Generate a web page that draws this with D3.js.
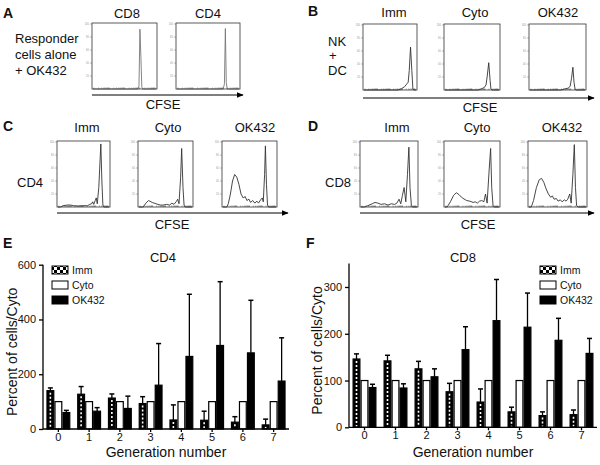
<!DOCTYPE html>
<html><head><meta charset="utf-8">
<script src="https://cdn.jsdelivr.net/npm/d3@7"></script>
<style>body{margin:0;background:#fff} svg{display:block;font-family:"Liberation Sans",Arial,sans-serif}</style>
</head><body><svg id="c" width="600" height="465"></svg>
<script>
// ---------------- data ----------------
const generations = ["0","1","2","3","4","5","6","7"];
const seriesNames = ["Imm","Cyto","OK432"];
const cd4Imm    = [140,127,113, 93, 33, 32, 25, 15];
const cd4ImmErr = [150,155,128,118, 88, 65, 45, 36];
const cd4Cyto   = [100,100,100,100,100,100,100,100];
const cd4Ok     = [ 60, 65, 75,160,265,305,278,175];
const cd4OkErr  = [ 68, 78,120,312,492,538,470,333];
const cd4Ticks  = [0,200,400,600];
const cd8Imm    = [146,142,125, 76, 54, 33, 25, 27];
const cd8ImmErr = [157,154,141, 94, 82, 43, 33, 37];
const cd8Cyto   = [100,100,100,100,100,100,100,100];
const cd8Ok     = [ 85, 84,108,166,228,214,186,158];
const cd8OkErr  = [ 92, 93,125,215,316,287,233,190];
const cd8Ticks  = [0,100,200,300];

// histogram traces: [relative CFSE position, % of max]
const histA_CD8 = [[0,0],[0.71,0],[0.73,5],[0.745,92],[0.76,50],[0.775,3],[0.79,0],[1,0]];
const histA_CD4 = [[0,0],[0.745,0],[0.765,8],[0.78,93],[0.795,10],[0.81,0],[1,0]];
const histB_Imm = [[0,0],[0.66,0],[0.72,2],[0.78,5],[0.82,9],[0.85,12],[0.87,30],[0.895,66],[0.92,30],[0.94,2],[0.96,0],[1,0]];
const histB_Cyto = [[0,0],[0.62,0],[0.68,2],[0.73,4],[0.76,8],[0.78,20],[0.81,42],[0.835,15],[0.85,2],[0.87,0],[1,0]];
const histB_OK = [[0,0],[0.56,0],[0.6,1],[0.65,2],[0.7,3],[0.73,6],[0.755,18],[0.78,35],[0.80,12],[0.82,1],[0.84,0],[1,0]];
const histC_Imm = [[0,0],[0.05,0],[0.1,2],[0.18,3],[0.25,3],[0.3,2],[0.4,1.5],[0.5,2],[0.58,2],[0.62,4],[0.66,5],[0.68,8],[0.70,4],[0.73,10],[0.75,14],[0.77,5],[0.8,30],[0.84,97],[0.86,40],[0.88,3],[0.9,0],[1,0]];
const histC_Cyto = [[0,0],[0.08,0],[0.13,6],[0.18,10],[0.25,7],[0.32,5],[0.4,3],[0.46,3],[0.52,4],[0.58,3],[0.62,6],[0.66,4],[0.7,8],[0.73,12],[0.755,5],[0.785,45],[0.805,90],[0.83,30],[0.85,3],[0.87,0],[1,0]];
const histC_OK = [[0,0],[0.07,0],[0.1,5],[0.14,20],[0.18,40],[0.22,50],[0.26,46],[0.3,35],[0.34,20],[0.38,14],[0.42,16],[0.45,10],[0.49,12],[0.52,7],[0.56,10],[0.6,6],[0.64,9],[0.67,6],[0.71,11],[0.74,14],[0.76,8],[0.785,50],[0.80,94],[0.82,35],[0.84,3],[0.86,0],[1,0]];
const histD_Imm = [[0,0],[0.06,0],[0.12,2],[0.2,5],[0.25,7],[0.3,6],[0.36,4],[0.42,5],[0.48,3],[0.54,5],[0.6,4],[0.64,6],[0.68,12],[0.71,5],[0.74,18],[0.77,30],[0.8,8],[0.83,50],[0.855,92],[0.875,30],[0.9,2],[0.92,0],[1,0]];
const histD_Cyto = [[0,0],[0.04,0],[0.1,8],[0.16,18],[0.21,22],[0.26,19],[0.32,14],[0.4,10],[0.46,9],[0.52,7],[0.56,8],[0.6,6],[0.64,9],[0.68,10],[0.72,8],[0.75,20],[0.78,6],[0.82,60],[0.845,90],[0.865,30],[0.89,2],[0.91,0],[1,0]];
const histD_OK = [[0,0],[0.04,0],[0.08,10],[0.13,30],[0.18,42],[0.22,44],[0.26,38],[0.3,28],[0.34,20],[0.38,15],[0.41,17],[0.44,12],[0.48,13],[0.51,9],[0.55,11],[0.58,8],[0.62,11],[0.65,9],[0.68,12],[0.715,20],[0.74,6],[0.77,50],[0.795,96],[0.815,30],[0.835,2],[0.86,0],[1,0]];
const histYTicks = [20,40,60,80,100];

// ---------------- drawing ----------------
const svg = d3.select("#c");
const defs = svg.append("defs");
defs.append("marker").attr("id","arr").attr("viewBox","0 0 10 10").attr("refX",9).attr("refY",5)
  .attr("markerWidth",7).attr("markerHeight",7).attr("markerUnits","userSpaceOnUse").attr("orient","auto")
  .append("path").attr("d","M0,1 L10,5 L0,9 Z").attr("fill","#000");
const pat = defs.append("pattern").attr("id","checks").attr("patternUnits","userSpaceOnUse").attr("width",6).attr("height",6);
pat.append("rect").attr("width",6).attr("height",6).attr("fill","#fff");
pat.append("rect").attr("width",3).attr("height",3).attr("fill","#000");
pat.append("rect").attr("x",3).attr("y",3).attr("width",3).attr("height",3).attr("fill","#000");

function txt(x,y,s,opt={}) {
  return svg.append("text").attr("x",x).attr("y",y).text(s)
    .attr("font-size",opt.size||13).attr("font-weight",opt.bold?"bold":null)
    .attr("text-anchor",opt.anchor||"start").attr("fill","#111");
}

function histogram(x0,x1,y0,y1,data,stroke) {
  const g = svg.append("g");
  const xs = d3.scaleLinear().domain([0,1]).range([x0+1,x1-1]);
  const ys = d3.scaleLinear().domain([0,100]).range([y1,y0+1]);
  const lg = d3.scaleLog().domain([1,10000]).range([x0+2,x1-2]);
  g.selectAll(".bt").data(lg.ticks()).join("line")
    .attr("x1",d=>lg(d)).attr("x2",d=>lg(d)).attr("y1",y1-1.5).attr("y2",y1)
    .attr("stroke","#777").attr("stroke-width",0.6);
  g.selectAll(".lt").data(histYTicks).join("line")
    .attr("x1",x0-2).attr("x2",x0).attr("y1",d=>ys(d)).attr("y2",d=>ys(d))
    .attr("stroke","#999").attr("stroke-width",0.6);
  g.selectAll(".ll").data(histYTicks).join("text")
    .attr("x",x0-3).attr("y",d=>ys(d)+1).attr("text-anchor","end").attr("font-size",2.6).attr("fill","#999")
    .text(d=>d);
  g.append("path").datum(data)
    .attr("d",d3.line().x(d=>xs(d[0])).y(d=>ys(d[1])))
    .attr("fill","none").attr("stroke",stroke||"#333").attr("stroke-width",0.9).attr("stroke-linejoin","round");
  g.append("rect").attr("x",x0).attr("y",y0).attr("width",x1-x0).attr("height",y1-y0)
    .attr("fill","none").attr("stroke","#333").attr("stroke-width",0.8);
}
function arrow(x0,x1,y) {
  svg.append("line").attr("x1",x0).attr("x2",x1).attr("y1",y).attr("y2",y)
    .attr("stroke","#000").attr("stroke-width",1).attr("marker-end","url(#arr)");
}

// Panel A
txt(3,18,"A",{bold:true,size:14});
txt(127,18,"CD8",{anchor:"middle"}); txt(208,18,"CD4",{anchor:"middle"});
txt(15,43,"Responder"); txt(15,59,"cells alone"); txt(15,75,"+ OK432");
histogram(92,157,23,89,histA_CD8,"#777");
histogram(176,240,23,89,histA_CD4,"#777");
arrow(92,243,95); txt(163,109,"CFSE",{anchor:"middle"});

// Panel B
txt(308,16,"B",{bold:true,size:14});
txt(394,17,"Imm",{anchor:"middle"}); txt(475,17,"Cyto",{anchor:"middle"}); txt(558,17,"OK432",{anchor:"middle"});
txt(328,46,"NK"); txt(329,60,"+"); txt(328,75,"DC");
histogram(363,417,24,90,histB_Imm);
histogram(444,500,24,90,histB_Cyto);
histogram(529,586,24,90,histB_OK);
arrow(363,594,98); txt(480,112,"CFSE",{anchor:"middle"});

// Panel C
txt(3,131,"C",{bold:true,size:14});
txt(87,132,"Imm",{anchor:"middle"}); txt(168,132,"Cyto",{anchor:"middle"}); txt(255,132,"OK432",{anchor:"middle"});
txt(17,187,"CD4");
histogram(57,110,141,207,histC_Imm);
histogram(138,193,141,207,histC_Cyto);
histogram(222,277,141,207,histC_OK);
arrow(57,288,213); txt(172,229,"CFSE",{anchor:"middle"});

// Panel D
txt(308,131,"D",{bold:true,size:14});
txt(397,132,"Imm",{anchor:"middle"}); txt(477,132,"Cyto",{anchor:"middle"}); txt(562,132,"OK432",{anchor:"middle"});
txt(325,187,"CD8");
histogram(360,418,141,207,histD_Imm);
histogram(444,500,141,207,histD_Cyto);
histogram(528,587,141,207,histD_OK);
arrow(360,594,213); txt(478,229,"CFSE",{anchor:"middle"});

// Bar charts
function barChart(o) {
  const g = svg.append("g");
  const y = d3.scaleLinear().domain([0,o.yMax]).range([o.yBottom,o.yTop]);
  const x = d3.scaleBand().domain(generations).range([o.axisX,o.xEnd]);
  const inner = d3.scaleBand().domain(seriesNames).range([x.bandwidth()/2-12, x.bandwidth()/2+12]);
  const series = [
    {name:"Imm", vals:o.imm, err:o.immErr},
    {name:"Cyto", vals:o.cyto, err:null},
    {name:"OK432", vals:o.ok, err:o.okErr}
  ];
  series.forEach(s=>{
    const rows = generations.map((gname,i)=>({g:gname,v:s.vals[i],e:s.err?s.err[i]:null}));
    const bx = d=>x(d.g)+inner(s.name);
    if (s.err) {
      g.selectAll(null).data(rows).join("line")
        .attr("x1",d=>bx(d)+inner.bandwidth()/2).attr("x2",d=>bx(d)+inner.bandwidth()/2)
        .attr("y1",d=>y(d.v)).attr("y2",d=>y(d.e)).attr("stroke","#000").attr("stroke-width",1.3);
      g.selectAll(null).data(rows).join("line")
        .attr("x1",d=>bx(d)+inner.bandwidth()/2-2.5).attr("x2",d=>bx(d)+inner.bandwidth()/2+2.5)
        .attr("y1",d=>y(d.e)).attr("y2",d=>y(d.e)).attr("stroke","#000").attr("stroke-width",1.5);
    }
    g.selectAll(null).data(rows).join("rect")
      .attr("x",d=>bx(d)+0.6).attr("width",inner.bandwidth()-1.2)
      .attr("y",d=>y(d.v)).attr("height",d=>y(0)-y(d.v))
      .attr("fill",s.name==="Cyto"?"#fff":"#000").attr("stroke","#000").attr("stroke-width",1.2);
    if (s.name==="Imm") {
      g.selectAll(null).data(rows).join("line")
        .attr("x1",d=>bx(d)+inner.bandwidth()/2).attr("x2",d=>bx(d)+inner.bandwidth()/2)
        .attr("y1",d=>y(d.v)+2).attr("y2",y(0)-1)
        .attr("stroke","#fff").attr("stroke-width",1.6).attr("stroke-dasharray","2,2");
    }
  });
  const ya = g.append("g").attr("transform",`translate(${o.axisX},0)`)
    .call(d3.axisLeft(y).tickValues(o.ticks).tickSize(4).tickSizeOuter(0));
  ya.select(".domain").attr("d",`M0,${o.yBottom}V${y(o.yMax)}`);
  const xa = g.append("g").attr("transform",`translate(0,${o.yBottom})`)
    .call(d3.axisBottom(x).tickSize(3).tickPadding(1).tickSizeOuter(0));
  xa.select(".domain").attr("d",`M${o.axisX},0H${o.xEnd}`);
  [ya,xa].forEach(a=>{
    a.selectAll("path,line").attr("stroke","#000").attr("stroke-width",1.3);
    a.selectAll("text").attr("font-size",11).attr("font-family","Liberation Sans, Arial, sans-serif").attr("fill","#111");
  });
  txt(o.titleX,262,o.title,{anchor:"middle"});
  svg.append("text").attr("transform",`translate(${o.yLabelX},${(o.yBottom+o.yTop)/2+5}) rotate(-90)`)
    .attr("text-anchor","middle").attr("font-size",14).attr("fill","#111").text("Percent of cells/Cyto");
  txt((o.axisX+o.xEnd)/2,457,"Generation number",{anchor:"middle",size:14});
  const lg = svg.append("g");
  seriesNames.forEach((n,i)=>{
    const yy = o.legY + i*15;
    lg.append("rect").attr("x",o.legX).attr("y",yy-4).attr("width",16).attr("height",8)
      .attr("fill", n==="Imm"?"url(#checks)":(n==="Cyto"?"#fff":"#000")).attr("stroke","#000").attr("stroke-width",1);
    lg.append("text").attr("x",o.legX+20).attr("y",yy+4).attr("font-size",10.5).attr("fill","#111").text(n);
  });
}

txt(3,248,"E",{bold:true,size:14});
barChart({imm:cd4Imm,immErr:cd4ImmErr,cyto:cd4Cyto,ok:cd4Ok,okErr:cd4OkErr,ticks:cd4Ticks,
  yMax:600,yBottom:429,yTop:264.7,axisX:43,xEnd:289,title:"CD4",titleX:163,yLabelX:17,legX:52,legY:270});

txt(306,248,"F",{bold:true,size:14});
barChart({imm:cd8Imm,immErr:cd8ImmErr,cyto:cd8Cyto,ok:cd8Ok,okErr:cd8OkErr,ticks:cd8Ticks,
  yMax:350,yBottom:427.3,yTop:263.6,axisX:349,xEnd:597,title:"CD8",titleX:463,yLabelX:322,legX:540,legY:270});
</script>
</body></html>
